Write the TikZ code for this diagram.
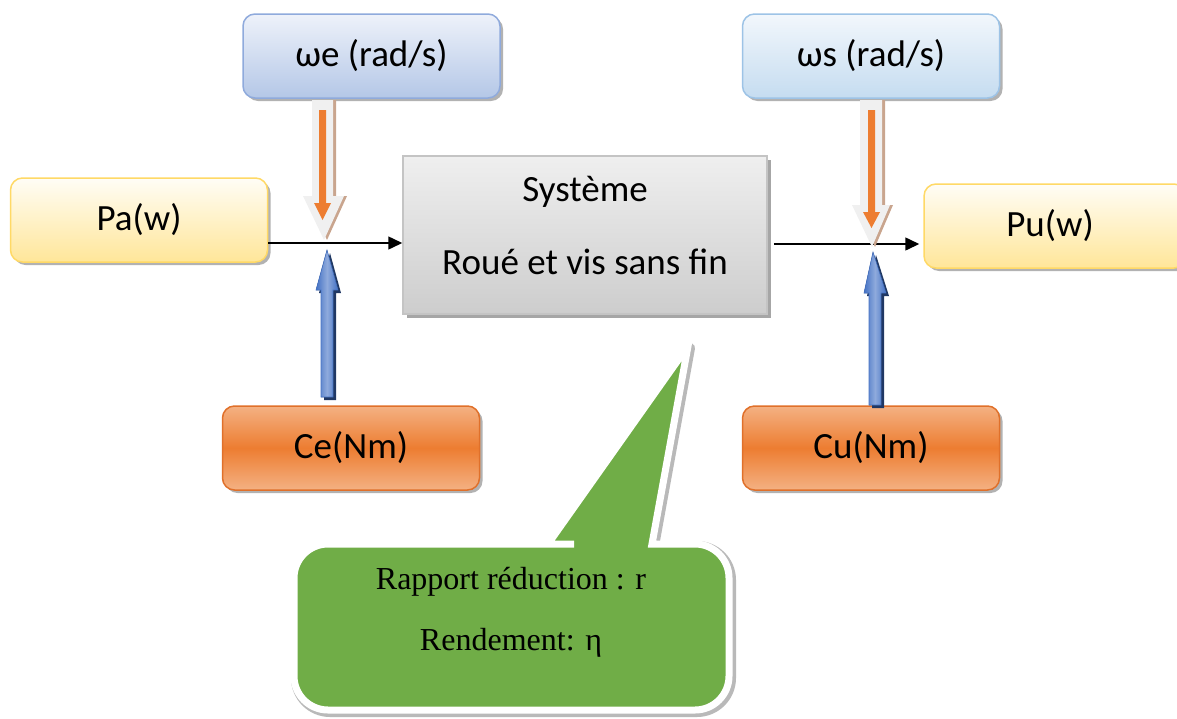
\documentclass[tikz,border=0pt]{standalone}
\usepackage{fontspec}
\setmainfont{Carlito}
\newfontfamily\timesf{Liberation Serif}
\usetikzlibrary{shadows,arrows.meta}
\definecolor{bluetop}{HTML}{EEF2FA}
\definecolor{bluebot}{HTML}{B4C7E7}
\definecolor{blueedge}{HTML}{8FAADC}
\definecolor{lbluetop}{HTML}{F2F7FC}
\definecolor{lbluebot}{HTML}{C5DCF0}
\definecolor{lblueedge}{HTML}{9DC3E6}
\definecolor{yeltop}{HTML}{FFFDF6}
\definecolor{yelbot}{HTML}{FFE699}
\definecolor{yeledge}{HTML}{FFD966}
\definecolor{orlight}{HTML}{F4B183}
\definecolor{ormid}{HTML}{ED7D31}
\definecolor{oredge}{HTML}{E0702A}
\definecolor{graytop}{HTML}{EFEFEF}
\definecolor{graybot}{HTML}{CDCDCD}
\definecolor{grayedge}{HTML}{C4C4C4}
\definecolor{calgreen}{HTML}{70AD47}
\definecolor{arrgray}{HTML}{F0F0F0}
\definecolor{arrbrown}{HTML}{C9A58E}
\definecolor{arrblue}{HTML}{4472C4}
\definecolor{arrbluel}{HTML}{8FAADC}
\definecolor{arrnavy}{HTML}{203864}
\definecolor{arrorange}{HTML}{ED7D31}
\tikzset{
  boxbase/.style={rounded corners=12pt, minimum width=257pt, minimum height=84pt,
    line width=1.5pt, font=\fontsize{37}{44}\selectfont,
    drop shadow={shadow xshift=3pt, shadow yshift=-3pt, fill=black, opacity=.3}},
  bluebox/.style={boxbase, draw=blueedge, top color=bluetop, bottom color=bluebot},
  lbluebox/.style={boxbase, draw=lblueedge, top color=lbluetop, bottom color=lbluebot},
  yelbox/.style={boxbase, draw=yeledge, top color=yeltop, bottom color=yelbot},
  orbox/.style={boxbase, draw=oredge, top color=orlight, bottom color=orlight, middle color=ormid},
  sysbox/.style={draw=grayedge, line width=1.5pt, minimum width=364pt, minimum height=158pt,
    top color=graytop, bottom color=graybot,
    drop shadow={shadow xshift=4pt, shadow yshift=-4pt, fill=black, opacity=.35}},
  conn/.style={line width=1.5pt, -{Triangle[length=14pt,width=13pt]}},
  graybarrow/.style={fill=arrgray, drop shadow={shadow xshift=3pt, shadow yshift=0pt, fill=arrbrown, opacity=1}},
  orarrow/.style={fill=arrorange},
  bluearrow/.style={left color=arrblue, right color=arrblue, middle color=arrbluel, draw=arrblue, line width=0.6pt,
    drop shadow={shadow xshift=3pt, shadow yshift=-3pt, fill=arrnavy, opacity=1}},
  txt/.style={font=\fontsize{37}{44}\selectfont},
  caltxt/.style={font=\timesf\fontsize{32}{38}\selectfont}
}
\begin{document}
\begin{tikzpicture}[x=1pt,y=-1pt]
\useasboundingbox (0,0) rectangle (1177,718);
% boxes
\node[bluebox] (we) at (371.5,56) {ωe (rad/s)};
\node[lbluebox] (ws) at (871,56) {ωs (rad/s)};
\node[yelbox] (pa) at (139,220) {Pa(w)};
\node[yelbox, minimum width=262pt] (pu) at (1055,226) {};
\node[txt] (putxt) at (1050,226) {Pu(w)};
\node[orbox] (ce) at (351,448) {Ce(Nm)};
\node[orbox] (cu) at (871,448) {Cu(Nm)};
\node[sysbox] (sys) at (585,235) {};
\node[txt] (sys1) at (585,192) {Système};
\node[txt] (sys2) at (585,262) {Roué et vis sans fin};
% junctions
\coordinate (j1) at (324,243);
\coordinate (j2) at (872,244);
% connectors
\draw[conn] (pa.east |- j1) -- (sys.west |- j1);
\draw[conn, shorten >=4pt] ([xshift=6pt]sys.east |- j2) -- (pu.west |- j2);
% left block arrows
\fill[graybarrow] (312,100) -- (333,100) -- (333,196) -- (344,196) -- (324,240) -- (303,196) -- (312,196) -- cycle;
\fill[orarrow] (319,110) -- (326,110) -- (326,203) -- (331,203) -- (322.5,220) -- (314,203) -- (319,203) -- cycle;
\filldraw[bluearrow] (327,250) -- (338,290) -- (333,290) -- (333,397) -- (321,397) -- (321,290) -- (316,290) -- cycle;
% right block arrows
\fill[graybarrow] (860,100) -- (882,100) -- (882,205) -- (890,205) -- (872,247) -- (852,205) -- (860,205) -- cycle;
\fill[orarrow] (868,110) -- (875,110) -- (875,212) -- (880,212) -- (871.5,228) -- (863,212) -- (868,212) -- cycle;
\filldraw[bluearrow] (873,252) -- (886,293) -- (881,293) -- (881,405) -- (869,405) -- (869,293) -- (864,293) -- cycle;
% callout
\draw[draw=gray!55, line width=10pt, line join=round, xshift=2pt, yshift=-2pt]
  (548,544) -- (688,346) -- (652,544) -- (660,544) [rounded corners=34pt] -- (729,544) -- (729,710) -- (294,710) -- (294,544) -- (540,544) [sharp corners] -- cycle;
\filldraw[fill=calgreen, draw=white, line width=7pt, line join=miter]
  (548,544) -- (688,346) -- (652,544) -- (660,544) [rounded corners=34pt] -- (729,544) -- (729,710) -- (294,710) -- (294,544) -- (540,544) [sharp corners] -- cycle;
\node[caltxt] (cal1) at (511,582) {Rapport réduction : r};
\node[caltxt] (cal2) at (511,643) {Rendement: η};
\end{tikzpicture}
\end{document}
